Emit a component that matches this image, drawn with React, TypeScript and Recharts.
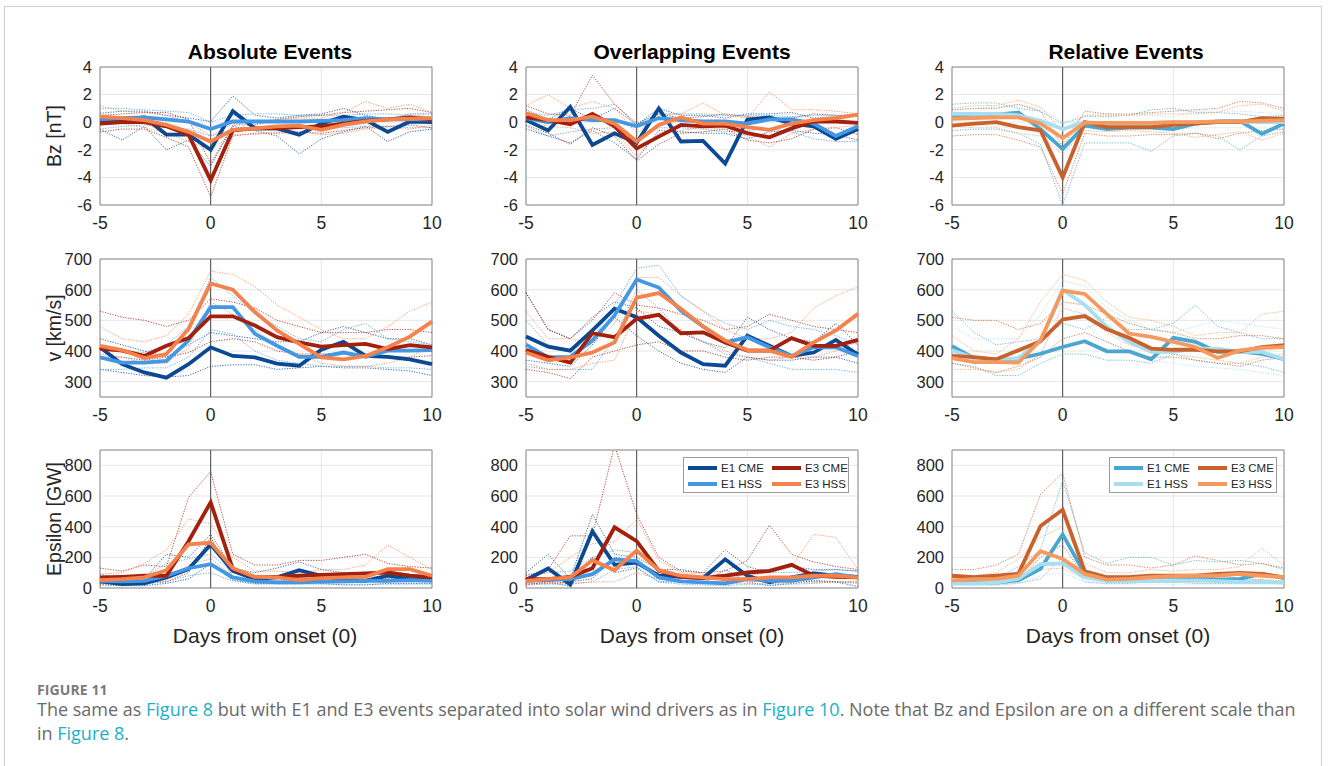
import React from 'react';
import { LineChart, Line, XAxis, YAxis, CartesianGrid, ReferenceLine, ReferenceArea } from 'recharts';

// Days relative to storm onset
const days = [-5, -4, -3, -2, -1, 0, 1, 2, 3, 4, 5, 6, 7, 8, 9, 10];
const xTicks = [-5, 0, 5, 10];
const bzTicks = [-6, -4, -2, 0, 2, 4];
const vTicks = [300, 400, 500, 600, 700];
const epsTicks = [0, 200, 400, 600, 800];

const columnTitles = ['Absolute Events', 'Overlapping Events', 'Relative Events'];
const rowLabels = ['Bz [nT]', 'v [km/s]', 'Epsilon [GW]'];
const seriesNames = ['E1 CME', 'E1 HSS', 'E3 CME', 'E3 HSS'];

// ---- Bz, absolute events ----
const bzAbs_e1cme = [0.05, 0.1, 0.35, -0.9, -0.9, -2.0, 0.8, -0.45, -0.45, -0.9, -0.1, 0.4, 0.15, -0.7, 0.05, 0.0];
const bzAbs_e1cmeHi = [0.65, 0.8, 0.8, 0.5, 0.3, 0.05, 1.9, 0.5, 0.3, 0.5, 0.6, 1.0, 0.5, 0.2, 0.6, 0.6];
const bzAbs_e1cmeLo = [-0.5, -1.3, -0.3, -2.0, -1.3, -3.2, -0.3, -0.6, -1.0, -2.3, -1.2, -0.7, -0.3, -1.4, -0.7, -0.5];
const bzAbs_e1hss = [0.2, 0.3, 0.35, 0.2, 0.05, -0.5, 0.05, 0.05, 0.05, 0.05, 0.1, 0.15, 0.3, 0.2, 0.2, 0.2];
const bzAbs_e1hssHi = [1.0, 1.0, 0.9, 0.8, 0.7, 0.0, 0.5, 0.6, 0.6, 0.5, 0.5, 0.5, 0.6, 0.6, 0.5, 0.4];
const bzAbs_e1hssLo = [-0.5, -0.3, -0.2, -0.4, -0.5, -1.0, -0.5, -0.5, -0.4, -0.4, -0.4, -0.4, -0.3, -0.3, -0.4, -0.4];
const bzAbs_e3cme = [-0.1, 0.0, 0.0, -0.3, -0.9, -4.2, -0.6, -0.45, -0.45, -0.35, -0.3, -0.1, 0.1, 0.2, 0.35, 0.2];
const bzAbs_e3cmeHi = [0.5, 0.6, 0.7, 0.7, 0.2, -3.0, -0.2, -0.2, 0.2, 0.4, 0.5, 0.7, 0.8, 0.9, 1.0, 0.7];
const bzAbs_e3cmeLo = [-0.7, -0.5, -0.5, -1.1, -1.8, -5.4, -1.0, -0.8, -0.8, -0.7, -0.8, -0.6, -0.4, -0.3, -0.2, -0.4];
const bzAbs_e3hss = [0.4, 0.3, 0.15, -0.2, -0.7, -1.4, -0.55, -0.45, -0.3, -0.25, -0.55, -0.2, 0.05, 0.2, 0.25, 0.3];
const bzAbs_e3hssHi = [1.2, 0.8, 0.7, 0.5, 0.0, -1.0, -0.1, 0.0, 0.2, 0.3, 0.3, 0.7, 1.5, 1.0, 1.3, 0.7];
const bzAbs_e3hssLo = [-0.2, -0.1, -0.4, -0.8, -1.4, -2.0, -0.9, -0.9, -0.7, -0.7, -0.9, -0.8, -0.5, -0.4, -0.5, -0.2];

// ---- Bz, overlapping events ----
const bzOvl_e1cme = [0.15, -0.6, 1.1, -1.65, -0.8, -1.5, 1.0, -1.4, -1.35, -3.0, 0.2, 0.35, -0.1, -0.3, -1.2, -0.5];
const bzOvl_e1cmeHi = [0.9, 0.2, 1.0, 0.2, 1.0, -0.2, 1.0, 0.5, 0.5, 0.3, 0.6, 0.6, 0.7, 0.3, 0.4, 0.5];
const bzOvl_e1cmeLo = [-0.5, -1.0, -1.5, -0.6, -1.5, -2.7, -0.6, -0.7, -0.8, -0.8, -1.2, -0.7, -0.6, -0.8, -0.9, -1.3];
const bzOvl_e1hss = [0.3, 0.0, 0.3, 0.15, 0.15, -0.3, 0.3, 0.15, 0.05, 0.05, -0.1, 0.2, 0.2, -0.1, -1.0, -0.3];
const bzOvl_e1hssHi = [0.7, 0.5, 0.9, 1.0, 1.3, -0.2, 0.6, 0.6, 0.6, 0.5, 0.5, 0.5, 0.4, 0.5, 0.5, 0.6];
const bzOvl_e1hssLo = [-0.3, -1.0, -0.7, -0.5, -0.4, -1.2, -0.4, -0.4, -0.5, -0.7, -0.6, -0.5, -0.7, -1.2, -1.4, -1.4];
const bzOvl_e3cme = [0.35, 0.15, -0.15, 0.6, -0.3, -1.9, -1.05, -0.2, -0.3, -0.25, -0.8, -1.1, -0.45, 0.05, 0.05, -0.05];
const bzOvl_e3cmeHi = [1.2, 0.6, 0.5, 3.4, 1.3, -0.1, 0.6, 0.3, 0.4, 0.6, 0.4, 0.3, 0.3, 0.6, 0.5, 0.4];
const bzOvl_e3cmeLo = [-0.2, -0.8, -1.6, -0.4, -1.0, -2.8, -1.6, -0.8, -0.7, -0.5, -1.3, -1.5, -1.2, -0.5, -0.4, -0.9];
const bzOvl_e3hss = [0.65, 0.15, 0.15, 0.4, -0.1, -1.4, -0.2, 0.35, -0.1, -0.1, -0.35, -0.55, -0.1, 0.15, 0.3, 0.55];
const bzOvl_e3hssHi = [1.2, 2.0, 1.0, 1.5, 1.0, -0.8, 0.5, 0.6, 1.4, 0.5, 0.3, 2.2, 0.9, 0.9, 0.8, 0.6];
const bzOvl_e3hssLo = [0.0, -0.3, -0.4, -0.8, -0.7, -2.5, -0.8, -0.6, -0.4, -0.5, -1.0, -1.8, -0.8, -0.5, -0.4, -0.2];

// ---- Bz, relative events ----
const bzRel_e1cme = [0.5, 0.55, 0.55, 0.7, -0.5, -1.95, -0.25, -0.5, -0.4, -0.4, -0.5, -0.1, 0.05, 0.1, -0.85, -0.1];
const bzRel_e1cmeHi = [1.3, 1.4, 1.4, 1.0, 0.8, -0.1, 0.4, 0.4, 0.5, 0.9, 1.0, 0.7, 0.7, 0.6, 0.4, 0.5];
const bzRel_e1cmeLo = [-0.6, -0.5, -0.5, -0.8, -1.6, -6.0, -1.5, -1.5, -1.5, -2.1, -1.0, -0.8, -1.0, -2.0, -1.0, -0.7];
const bzRel_e1hss = [0.6, 0.6, 0.6, 0.5, 0.1, -0.5, 0.0, -0.1, -0.1, -0.05, 0.0, 0.0, 0.0, 0.05, 0.0, 0.0];
const bzRel_e1hssHi = [0.8, 1.0, 1.1, 1.2, 1.0, 0.0, 0.5, 0.6, 0.5, 0.5, 0.4, 0.8, 0.8, 0.8, 0.7, 0.6];
const bzRel_e1hssLo = [-0.2, -0.2, -0.3, -0.5, -0.8, -1.3, -0.4, -0.3, -0.4, -0.4, -0.5, -0.4, -0.4, -0.4, -0.4, -0.5];
const bzRel_e3cme = [-0.25, -0.1, 0.0, -0.35, -0.6, -4.0, 0.0, -0.35, -0.35, -0.35, -0.2, -0.1, 0.0, 0.0, 0.3, 0.25];
const bzRel_e3cmeHi = [0.9, 1.0, 1.0, 1.3, 0.8, -1.8, 0.8, 0.6, 0.6, 0.7, 0.8, 0.9, 1.0, 1.5, 1.4, 1.0];
const bzRel_e3cmeLo = [-1.0, -0.9, -0.9, -1.3, -1.8, -5.2, -0.8, -1.0, -1.0, -0.9, -0.9, -0.8, -1.2, -0.8, -0.6, -0.5];
const bzRel_e3hss = [0.25, 0.3, 0.35, 0.35, -0.1, -1.15, -0.05, -0.05, -0.05, -0.05, 0.0, 0.0, 0.05, 0.05, 0.1, 0.15];
const bzRel_e3hssHi = [1.0, 1.2, 1.2, 1.6, 1.1, -0.7, 0.5, 0.5, 0.5, 0.6, 0.6, 0.6, 0.7, 1.2, 1.3, 0.8];
const bzRel_e3hssLo = [-0.3, -0.4, -0.4, -0.8, -1.0, -2.3, -0.6, -0.7, -0.6, -0.7, -0.8, -1.1, -0.9, -0.7, -1.3, -0.8];

// ---- v, absolute events ----
const vAbs_e1cme = [412, 357, 330, 313, 357, 412, 384, 379, 359, 352, 404, 430, 384, 381, 373, 357];
const vAbs_e1cmeHi = [440, 420, 400, 380, 420, 460, 450, 440, 430, 430, 460, 480, 460, 440, 440, 420];
const vAbs_e1cmeLo = [340, 330, 320, 315, 320, 350, 355, 355, 340, 345, 350, 345, 345, 340, 335, 320];
const vAbs_e1hss = [379, 362, 362, 368, 434, 543, 543, 456, 417, 381, 381, 395, 381, 401, 401, 403];
const vAbs_e1hssHi = [420, 400, 395, 420, 480, 640, 580, 520, 480, 440, 430, 470, 490, 440, 430, 420];
const vAbs_e1hssLo = [340, 340, 345, 345, 380, 470, 455, 400, 370, 360, 350, 350, 350, 345, 345, 340];
const vAbs_e3cme = [408, 401, 384, 417, 442, 513, 513, 483, 445, 428, 414, 419, 423, 406, 419, 412];
const vAbs_e3cmeHi = [530, 510, 500, 480, 500, 570, 560, 540, 500, 480, 460, 460, 460, 470, 470, 460];
const vAbs_e3cmeLo = [380, 380, 370, 380, 395, 430, 440, 430, 400, 390, 390, 395, 390, 380, 380, 385];
const vAbs_e3hss = [417, 403, 377, 390, 472, 620, 600, 527, 467, 423, 379, 373, 384, 412, 447, 496];
const vAbs_e3hssHi = [480, 440, 430, 450, 520, 660, 650, 610, 550, 510, 470, 440, 440, 480, 530, 560];
const vAbs_e3hssLo = [390, 380, 360, 360, 410, 560, 520, 470, 420, 390, 360, 350, 350, 360, 380, 420];

// ---- v, overlapping events ----
const vOvl_e1cme = [447, 414, 401, 467, 538, 510, 450, 395, 357, 352, 450, 417, 384, 395, 436, 388];
const vOvl_e1cmeHi = [590, 470, 440, 510, 560, 540, 480, 460, 430, 410, 510, 470, 440, 430, 490, 420];
const vOvl_e1cmeLo = [370, 360, 350, 420, 510, 450, 400, 360, 340, 330, 380, 370, 370, 380, 380, 360];
const vOvl_e1hss = [421, 379, 381, 434, 516, 633, 607, 532, 480, 428, 445, 412, 384, 412, 412, 384];
const vOvl_e1hssHi = [500, 420, 400, 440, 550, 670, 680, 580, 530, 490, 470, 500, 480, 470, 450, 420];
const vOvl_e1hssLo = [350, 340, 340, 340, 440, 600, 540, 460, 430, 390, 380, 360, 340, 340, 340, 330];
const vOvl_e3cme = [403, 381, 362, 458, 445, 505, 518, 458, 461, 428, 401, 401, 442, 417, 417, 436];
const vOvl_e3cmeHi = [590, 470, 440, 500, 590, 550, 540, 520, 500, 470, 480, 520, 500, 480, 470, 460];
const vOvl_e3cmeLo = [340, 330, 310, 380, 400, 420, 430, 400, 400, 380, 370, 380, 380, 370, 380, 400];
const vOvl_e3hss = [395, 370, 379, 395, 428, 574, 589, 538, 480, 434, 403, 401, 381, 428, 467, 521];
const vOvl_e3hssHi = [530, 440, 440, 420, 490, 640, 640, 580, 530, 470, 440, 440, 460, 540, 580, 610];
const vOvl_e3hssLo = [360, 340, 340, 360, 370, 530, 520, 470, 430, 400, 380, 370, 380, 380, 400, 430];

// ---- v, relative events ----
const vRel_e1cme = [416, 377, 373, 375, 391, 413, 432, 399, 399, 373, 443, 430, 397, 399, 391, 373];
const vRel_e1cmeHi = [530, 460, 420, 430, 440, 490, 470, 510, 470, 470, 490, 550, 480, 460, 440, 440];
const vRel_e1cmeLo = [360, 350, 320, 320, 360, 390, 390, 370, 370, 360, 390, 370, 360, 360, 350, 330];
const vRel_e1hss = [402, 377, 373, 377, 432, 600, 550, 479, 430, 397, 397, 408, 408, 397, 397, 373];
const vRel_e1hssHi = [480, 440, 440, 440, 520, 630, 610, 540, 500, 470, 460, 480, 500, 490, 480, 470];
const vRel_e1hssLo = [370, 360, 360, 360, 380, 560, 490, 430, 390, 370, 360, 350, 345, 340, 330, 320];
const vRel_e3cme = [384, 380, 373, 402, 432, 503, 514, 471, 443, 408, 404, 404, 399, 399, 413, 419];
const vRel_e3cmeHi = [510, 500, 500, 470, 490, 560, 550, 520, 490, 470, 460, 440, 440, 450, 450, 440];
const vRel_e3cmeLo = [360, 345, 330, 350, 380, 440, 460, 430, 400, 380, 380, 370, 360, 350, 370, 380];
const vRel_e3hss = [377, 364, 364, 362, 435, 597, 586, 520, 457, 446, 430, 413, 377, 402, 410, 413];
const vRel_e3hssHi = [450, 400, 390, 440, 560, 650, 630, 560, 510, 500, 480, 450, 460, 460, 520, 530];
const vRel_e3hssLo = [340, 340, 330, 340, 390, 540, 520, 460, 420, 400, 390, 380, 370, 360, 380, 390];

// ---- Epsilon, absolute events ----
const epsAbs_e1cme = [43, 26, 30, 69, 123, 284, 112, 58, 69, 116, 80, 52, 47, 80, 58, 58];
const epsAbs_e1cmeHi = [90, 60, 60, 220, 200, 350, 130, 100, 130, 170, 120, 100, 90, 110, 90, 80];
const epsAbs_e1cmeLo = [20, 15, 15, 30, 60, 160, 50, 30, 30, 40, 30, 20, 20, 30, 30, 30];
const epsAbs_e1hss = [47, 43, 47, 80, 129, 155, 69, 43, 37, 37, 41, 43, 47, 47, 52, 47];
const epsAbs_e1hssHi = [70, 60, 70, 160, 190, 220, 100, 80, 70, 70, 60, 70, 80, 70, 80, 70];
const epsAbs_e1hssLo = [25, 20, 25, 40, 80, 100, 45, 25, 25, 25, 25, 25, 25, 25, 25, 25];
const epsAbs_e3cme = [69, 73, 80, 80, 305, 559, 123, 69, 73, 80, 86, 90, 95, 101, 80, 69];
const epsAbs_e3cmeHi = [130, 110, 150, 140, 590, 760, 220, 150, 150, 180, 180, 200, 220, 160, 140, 130];
const epsAbs_e3cmeLo = [30, 40, 40, 40, 100, 330, 70, 45, 45, 50, 50, 55, 60, 60, 50, 45];
const epsAbs_e3hss = [52, 58, 69, 116, 284, 295, 129, 73, 69, 52, 65, 69, 73, 123, 123, 80];
const epsAbs_e3hssHi = [90, 100, 160, 250, 450, 420, 200, 110, 110, 100, 120, 120, 150, 280, 200, 120];
const epsAbs_e3hssLo = [25, 25, 30, 50, 150, 190, 80, 40, 40, 30, 35, 35, 40, 60, 60, 45];

// ---- Epsilon, overlapping events ----
const epsOvl_e1cme = [52, 127, 22, 370, 151, 166, 80, 73, 65, 187, 80, 37, 69, 95, 80, 73];
const epsOvl_e1cmeHi = [100, 220, 60, 480, 220, 200, 120, 120, 100, 250, 140, 100, 140, 120, 120, 110];
const epsOvl_e1cmeLo = [20, 40, 10, 200, 100, 130, 40, 40, 30, 120, 40, 15, 30, 50, 40, 10];
const epsOvl_e1hss = [47, 52, 58, 90, 187, 176, 69, 43, 37, 30, 58, 47, 47, 69, 90, 69];
const epsOvl_e1hssHi = [90, 100, 110, 200, 250, 230, 110, 80, 70, 70, 90, 100, 100, 110, 120, 110];
const epsOvl_e1hssLo = [20, 25, 25, 40, 120, 140, 40, 25, 20, 15, 25, 20, 25, 30, 40, 30];
const epsOvl_e3cme = [58, 58, 73, 129, 396, 305, 112, 73, 65, 80, 101, 112, 151, 80, 73, 69];
const epsOvl_e3cmeHi = [80, 120, 340, 340, 930, 480, 200, 110, 100, 110, 180, 410, 220, 170, 140, 120];
const epsOvl_e3cmeLo = [30, 30, 40, 60, 200, 180, 60, 40, 40, 40, 50, 60, 60, 40, 40, 40];
const epsOvl_e3hss = [47, 58, 69, 181, 116, 245, 116, 80, 69, 58, 58, 69, 69, 80, 80, 69];
const epsOvl_e3hssHi = [70, 100, 200, 290, 300, 450, 180, 100, 90, 90, 80, 100, 140, 350, 330, 120];
const epsOvl_e3hssLo = [20, 30, 30, 40, 40, 100, 60, 40, 40, 30, 30, 30, 30, 40, 40, 40];

// ---- Epsilon, relative events ----
const epsRel_e1cme = [40, 35, 35, 50, 125, 350, 92, 60, 60, 70, 75, 70, 55, 60, 92, 65];
const epsRel_e1cmeHi = [70, 70, 60, 140, 250, 700, 230, 160, 200, 200, 150, 180, 170, 180, 160, 120];
const epsRel_e1cmeLo = [20, 20, 20, 30, 60, 200, 40, 30, 30, 40, 40, 30, 30, 30, 30, 40];
const epsRel_e1hss = [30, 30, 35, 60, 155, 160, 70, 45, 45, 45, 45, 50, 45, 40, 40, 35];
const epsRel_e1hssHi = [60, 60, 60, 110, 230, 280, 120, 80, 90, 80, 80, 80, 100, 90, 90, 80];
const epsRel_e1hssLo = [20, 20, 20, 30, 80, 100, 40, 25, 25, 25, 25, 25, 25, 25, 25, 25];
const epsRel_e3cme = [80, 70, 80, 92, 405, 510, 108, 70, 70, 80, 80, 80, 92, 98, 92, 70];
const epsRel_e3cmeHi = [120, 120, 150, 220, 610, 750, 200, 150, 150, 130, 150, 210, 180, 150, 160, 130];
const epsRel_e3cmeLo = [40, 40, 40, 50, 200, 280, 70, 50, 50, 50, 50, 50, 55, 60, 55, 45];
const epsRel_e3hss = [50, 57, 60, 80, 240, 190, 92, 55, 60, 70, 78, 80, 80, 92, 80, 70];
const epsRel_e3hssHi = [80, 80, 100, 190, 330, 400, 160, 100, 100, 120, 110, 120, 120, 140, 260, 150];
const epsRel_e3hssLo = [25, 25, 30, 45, 120, 130, 60, 40, 40, 40, 40, 40, 40, 40, 40, 40];

const KEYS = ['e1cme', 'e1hss', 'e3cme', 'e3hss'];
const deepPalette = ['#0b4a92', '#4298e4', '#a3200d', '#f5814b'];
const softPalette = ['#4aa6d0', '#a9def0', '#c8612b', '#f59a5f'];

const FONT = '"Liberation Sans", Arial, Helvetica, sans-serif';
const PLOT_W = 332;
const PLOT_H = 138;
const Y_AXIS_W = 60;
const M_TOP = 14;
const M_RIGHT = 14;
const X_AXIS_H = 32;

const colLefts = [100, 526, 952];
const rowTops = [67, 259, 450];
const titleCenters = [270, 692, 1126];
const xLabelCenters = [265, 692, 1118];

type Trio = [number[], number[], number[]];

function Panel(props: {
  left: number;
  top: number;
  domain: [number, number];
  ticks: number[];
  sets: Trio[];
  palette: string[];
}) {
  const { left, top, domain, ticks, sets, palette } = props;
  const data = days.map((d, i) => {
    const row: Record<string, number> = { day: d };
    KEYS.forEach((k, j) => {
      row[k] = sets[j][0][i];
      row[k + 'Hi'] = sets[j][1][i];
      row[k + 'Lo'] = sets[j][2][i];
    });
    return row;
  });
  const xTickStyle = { fontSize: 17.5, fill: '#262626', fontFamily: FONT };
  const yTickStyle = { fontSize: 16.5, fill: '#262626', fontFamily: FONT };
  return (
    <div style={{ position: 'absolute', left: left - Y_AXIS_W, top: top - M_TOP }}>
      <LineChart
        width={Y_AXIS_W + PLOT_W + M_RIGHT}
        height={M_TOP + PLOT_H + X_AXIS_H}
        data={data}
        margin={{ top: M_TOP, right: M_RIGHT, bottom: 0, left: 0 }}
      >
        <CartesianGrid stroke="#e6e6e6" strokeWidth={1} />
        <XAxis
          dataKey="day"
          type="number"
          domain={[-5, 10]}
          ticks={xTicks}
          tickLine={false}
          axisLine={false}
          height={X_AXIS_H}
          tick={xTickStyle}
          tickMargin={6}
          interval={0}
        />
        <YAxis
          type="number"
          domain={domain}
          ticks={ticks}
          allowDataOverflow
          tickLine={false}
          axisLine={false}
          width={Y_AXIS_W}
          tick={yTickStyle}
          interval={0}
        />
        <ReferenceLine x={0} stroke="#4a4a4a" strokeWidth={1} />
        {KEYS.map((k, j) => (
          <Line
            key={k + 'Hi'}
            dataKey={k + 'Hi'}
            type="linear"
            stroke={palette[j]}
            strokeOpacity={0.8}
            strokeWidth={1}
            strokeDasharray="1.2 1.4"
            dot={false}
            isAnimationActive={false}
          />
        ))}
        {KEYS.map((k, j) => (
          <Line
            key={k + 'Lo'}
            dataKey={k + 'Lo'}
            type="linear"
            stroke={palette[j]}
            strokeOpacity={0.8}
            strokeWidth={1}
            strokeDasharray="1.2 1.4"
            dot={false}
            isAnimationActive={false}
          />
        ))}
        {KEYS.map((k, j) => (
          <Line
            key={k}
            dataKey={k}
            type="linear"
            stroke={palette[j]}
            strokeWidth={3.8}
            strokeLinejoin="miter"
            dot={false}
            isAnimationActive={false}
          />
        ))}
        <ReferenceArea
          x1={-5}
          x2={10}
          y1={domain[0]}
          y2={domain[1]}
          fill="none"
          stroke="#8a8a8a"
          strokeWidth={1}
          ifOverflow="visible"
        />
      </LineChart>
    </div>
  );
}

function LegendBox(props: { left: number; top: number; width: number; palette: string[] }) {
  const { left, top, width, palette } = props;
  const item = (name: string, color: string) => (
    <div style={{ display: 'flex', alignItems: 'center', height: 16, whiteSpace: 'nowrap' }}>
      <span style={{ display: 'inline-block', width: 29, height: 3.5, background: color, marginRight: 4, flex: 'none' }} />
      <span>{name}</span>
    </div>
  );
  return (
    <div
      style={{
        position: 'absolute',
        left,
        top,
        width,
        height: 36,
        boxSizing: 'border-box',
        border: '1px solid #9a9a9a',
        background: '#ffffff',
        fontFamily: FONT,
        fontSize: 11.5,
        color: '#262626',
        display: 'grid',
        gridTemplateColumns: '84px 1fr',
        padding: '2px 3px 0 4px',
      }}
    >
      {item(seriesNames[0], palette[0])}
      {item(seriesNames[2], palette[2])}
      {item(seriesNames[1], palette[1])}
      {item(seriesNames[3], palette[3])}
    </div>
  );
}

export default function App() {
  const grid: { domain: [number, number]; ticks: number[]; sets: Trio[] }[][] = [
    [
      { domain: [-6, 4], ticks: bzTicks, sets: [[bzAbs_e1cme, bzAbs_e1cmeHi, bzAbs_e1cmeLo], [bzAbs_e1hss, bzAbs_e1hssHi, bzAbs_e1hssLo], [bzAbs_e3cme, bzAbs_e3cmeHi, bzAbs_e3cmeLo], [bzAbs_e3hss, bzAbs_e3hssHi, bzAbs_e3hssLo]] },
      { domain: [-6, 4], ticks: bzTicks, sets: [[bzOvl_e1cme, bzOvl_e1cmeHi, bzOvl_e1cmeLo], [bzOvl_e1hss, bzOvl_e1hssHi, bzOvl_e1hssLo], [bzOvl_e3cme, bzOvl_e3cmeHi, bzOvl_e3cmeLo], [bzOvl_e3hss, bzOvl_e3hssHi, bzOvl_e3hssLo]] },
      { domain: [-6, 4], ticks: bzTicks, sets: [[bzRel_e1cme, bzRel_e1cmeHi, bzRel_e1cmeLo], [bzRel_e1hss, bzRel_e1hssHi, bzRel_e1hssLo], [bzRel_e3cme, bzRel_e3cmeHi, bzRel_e3cmeLo], [bzRel_e3hss, bzRel_e3hssHi, bzRel_e3hssLo]] },
    ],
    [
      { domain: [250, 700], ticks: vTicks, sets: [[vAbs_e1cme, vAbs_e1cmeHi, vAbs_e1cmeLo], [vAbs_e1hss, vAbs_e1hssHi, vAbs_e1hssLo], [vAbs_e3cme, vAbs_e3cmeHi, vAbs_e3cmeLo], [vAbs_e3hss, vAbs_e3hssHi, vAbs_e3hssLo]] },
      { domain: [250, 700], ticks: vTicks, sets: [[vOvl_e1cme, vOvl_e1cmeHi, vOvl_e1cmeLo], [vOvl_e1hss, vOvl_e1hssHi, vOvl_e1hssLo], [vOvl_e3cme, vOvl_e3cmeHi, vOvl_e3cmeLo], [vOvl_e3hss, vOvl_e3hssHi, vOvl_e3hssLo]] },
      { domain: [250, 700], ticks: vTicks, sets: [[vRel_e1cme, vRel_e1cmeHi, vRel_e1cmeLo], [vRel_e1hss, vRel_e1hssHi, vRel_e1hssLo], [vRel_e3cme, vRel_e3cmeHi, vRel_e3cmeLo], [vRel_e3hss, vRel_e3hssHi, vRel_e3hssLo]] },
    ],
    [
      { domain: [0, 900], ticks: epsTicks, sets: [[epsAbs_e1cme, epsAbs_e1cmeHi, epsAbs_e1cmeLo], [epsAbs_e1hss, epsAbs_e1hssHi, epsAbs_e1hssLo], [epsAbs_e3cme, epsAbs_e3cmeHi, epsAbs_e3cmeLo], [epsAbs_e3hss, epsAbs_e3hssHi, epsAbs_e3hssLo]] },
      { domain: [0, 900], ticks: epsTicks, sets: [[epsOvl_e1cme, epsOvl_e1cmeHi, epsOvl_e1cmeLo], [epsOvl_e1hss, epsOvl_e1hssHi, epsOvl_e1hssLo], [epsOvl_e3cme, epsOvl_e3cmeHi, epsOvl_e3cmeLo], [epsOvl_e3hss, epsOvl_e3hssHi, epsOvl_e3hssLo]] },
      { domain: [0, 900], ticks: epsTicks, sets: [[epsRel_e1cme, epsRel_e1cmeHi, epsRel_e1cmeLo], [epsRel_e1hss, epsRel_e1hssHi, epsRel_e1hssLo], [epsRel_e3cme, epsRel_e3cmeHi, epsRel_e3cmeLo], [epsRel_e3hss, epsRel_e3hssHi, epsRel_e3hssLo]] },
    ],
  ];

  const captionColor = '#6a6a6a';
  const linkColor = '#1cb0c9';
  const capFont = '"Open Sans", Lato, sans-serif';
  const link = (t: string) => <span style={{ color: linkColor, whiteSpace: 'nowrap' }}>{t}</span>;

  return (
    <div style={{ position: 'absolute', left: 0, top: 0, width: 1330, height: 766, background: '#ffffff', overflow: 'hidden' }}>
      <div style={{ position: 'absolute', left: 4, top: 6, width: 1318, height: 800, border: '1px solid #cfcfcf', boxSizing: 'border-box' }} />

      {columnTitles.map((t, c) => (
        <div
          key={t}
          style={{
            position: 'absolute',
            left: titleCenters[c] - 150,
            width: 300,
            top: 39,
            textAlign: 'center',
            fontFamily: FONT,
            fontWeight: 'bold',
            fontSize: 21,
            lineHeight: '26px',
            color: '#000',
          }}
        >
          {t}
        </div>
      ))}

      {rowLabels.map((t, r) => (
        <div
          key={t}
          style={{
            position: 'absolute',
            left: 54 - 100,
            width: 200,
            top: rowTops[r] + PLOT_H / 2 - 12,
            height: 24,
            lineHeight: '24px',
            textAlign: 'center',
            transform: 'rotate(-90deg)',
            transformOrigin: '100px 12px',
            fontFamily: FONT,
            fontSize: 19.5,
            color: '#262626',
            whiteSpace: 'nowrap',
          }}
        >
          {t}
        </div>
      ))}

      {grid.map((row, r) =>
        row.map((p, c) => (
          <Panel
            key={r + '-' + c}
            left={colLefts[c]}
            top={rowTops[r]}
            domain={p.domain}
            ticks={p.ticks}
            sets={p.sets}
            palette={c === 2 ? softPalette : deepPalette}
          />
        ))
      )}

      <LegendBox left={683} top={457} width={166} palette={deepPalette} />
      <LegendBox left={1109} top={457} width={168} palette={softPalette} />

      {xLabelCenters.map((x, c) => (
        <div
          key={'xl' + c}
          style={{
            position: 'absolute',
            left: x - 150,
            width: 300,
            top: 623,
            textAlign: 'center',
            fontFamily: FONT,
            fontSize: 21,
            lineHeight: '26px',
            color: '#262626',
          }}
        >
          Days from onset (0)
        </div>
      ))}

      <div style={{ position: 'absolute', left: 37, top: 680, fontFamily: capFont, fontSize: 14, fontWeight: 'bold', color: '#7a7a7a', letterSpacing: 0.1 }}>
        FIGURE 11
      </div>
      <div style={{ position: 'absolute', left: 37, top: 697, width: 1285, fontFamily: capFont, fontSize: 18, lineHeight: '24px', color: captionColor, whiteSpace: 'nowrap' }}>
        The same as {link('Figure 8')} but with E1 and E3 events separated into solar wind drivers as in {link('Figure 10')}. Note that Bz and
        Epsilon are on a different scale than
        <br />
        in {link('Figure 8')}.
      </div>
    </div>
  );
}
